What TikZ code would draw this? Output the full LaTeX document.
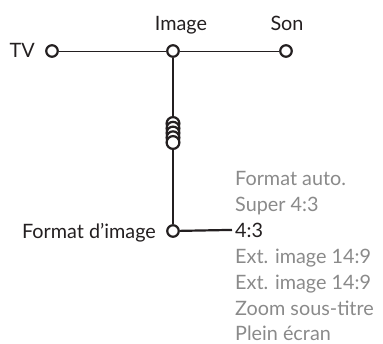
\documentclass[tikz,border=0pt]{standalone}
\usepackage{fontspec}
\setmainfont{Lato}
\usetikzlibrary{positioning}
\definecolor{ink}{HTML}{231F20}
\definecolor{menugrey}{HTML}{8A8A8A}

\begin{document}
\begin{tikzpicture}[x=1pt,y=-1pt,font=\fontsize{19.8}{22}\selectfont,
  dot/.style={draw=ink,circle,fill=white,line width=2.2pt,inner sep=0pt,minimum size=11.5pt},
  lbl/.style={text=ink,inner sep=0pt},
  item/.style={text=menugrey,inner sep=0pt,anchor=base west}]
  \useasboundingbox (0,0) rectangle (383,343);
  % menu bar
  \node[dot] (tv)  at (52,51)  {};
  \node[dot] (img) at (173,51) {};
  \node[dot] (son) at (286,51) {};
  \node[lbl,anchor=base east] (tvl) at (35,57) {TV};
  \node[lbl,anchor=base] (imgl) at (181,30) {Image};
  \node[lbl,anchor=base] (sonl) at (287,30) {Son};
  \draw[ink,line width=1pt] (tv) -- (img);
  \draw[ink,line width=1pt] (img) -- (son);
  % submenu
  \node[dot] (fmt) at (173,231) {};
  \node[lbl,anchor=base east] (fmtl) at (156,238) {Format d’image};
  \draw[ink,line width=2.2pt] (img) -- (fmt);
  \coordinate (coil) at (173,123.5);
  \foreach \k in {0,...,4}
    \draw[ink,line width=2.2pt,fill=white] ([yshift=-4.75*\k pt]coil) circle (6.4pt);
  % options
  \node[item] (o1) at (235,185) {Format auto.};
  \node[item] (o2) at (235,211) {Super 4:3};
  \node[item,text=ink] (o3) at (235,237) {4:3};
  \node[item] (o4) at (235,263) {Ext. image 14:9};
  \node[item] (o5) at (235,289) {Ext. image 14:9};
  \node[item] (o6) at (235,315) {Zoom sous-titre};
  \node[item] (o7) at (235,340) {Plein écran};
  \draw[ink,line width=2.2pt] (fmt) -- ([xshift=-3pt]o3.west);
\end{tikzpicture}
\end{document}
